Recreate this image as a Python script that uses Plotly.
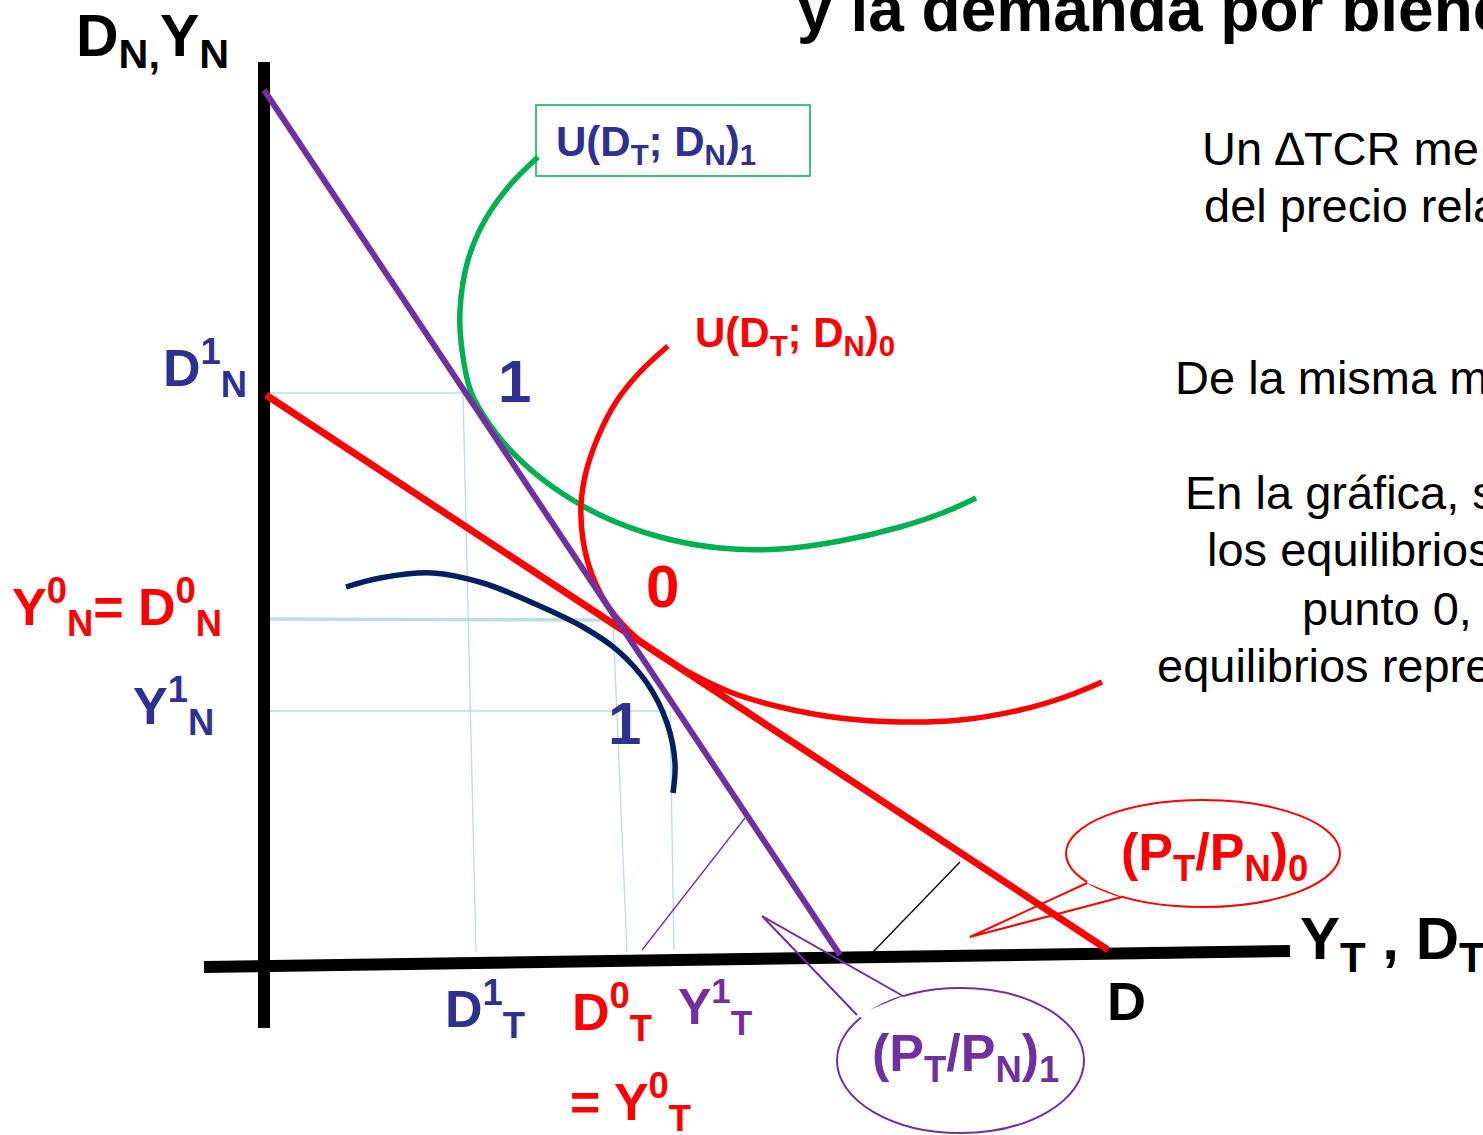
import plotly.graph_objects as go

# ---------------- data (diagram coordinates: origin at the axes' intersection) -------------
# axes
AXIS_V_X = [0, 0]
AXIS_V_Y = [-62, 904]
AXIS_H_X = [-60, 1026]
AXIS_H_Y = [-1, 15]

# budget / relative-price lines
PRICE1_X = [0, 576]          # (PT/PN)1  purple
PRICE1_Y = [876, 11]
PRICE0_X = [2, 844]          # (PT/PN)0  red
PRICE0_Y = [571, 16]

# indifference curve U1 (green)
U1_X = [274, 246, 221, 204, 196, 198, 207, 226, 251, 286, 336, 396, 456, 516, 576, 636, 681, 712]
U1_Y = [809, 781, 746, 706, 656, 616, 574, 541, 511, 481, 451, 429, 418, 417, 425, 439, 454, 468]

# indifference curve U0 (red)
U0_X = [404, 376, 352, 334, 322, 317, 319, 327, 342, 364, 392, 426, 466, 516, 576, 636, 696, 756, 801, 838]
U0_Y = [620, 594, 564, 529, 494, 461, 426, 394, 363, 336, 313, 293, 274, 259, 248, 244, 246, 256, 269, 284]

# production possibilities frontier (navy)
PPF_X = [82, 116, 169, 219, 269, 319, 353, 383, 403, 411, 409]
PPF_Y = [379, 388, 393, 383, 363, 339, 316, 283, 243, 203, 173]

# reference (guide) lines
GUIDE_D1N_X = [0, 201];   GUIDE_D1N_Y = [573, 573]
GUIDE_D1T_X = [199, 212]; GUIDE_D1T_Y = [573, 14]
GUIDE_Y0N_X = [4, 351];   GUIDE_Y0N_Y = [347, 346]
GUIDE_D0T_X = [349, 363]; GUIDE_D0T_Y = [346, 14]
GUIDE_Y1N_X = [4, 403];   GUIDE_Y1N_Y = [255, 255]
GUIDE_Y1T_X = [406, 410]; GUIDE_Y1T_Y = [255, 16]

# angle markers
ANGLE1_X = [481, 378]; ANGLE1_Y = [148, 16]
ANGLE0_X = [696, 609]; ANGLE0_Y = [104, 14]

# explanatory text on the right (as visible on the slide)
RIGHT_TEXT = ["Un ∆TCR me", "del precio rela", "De la misma m", "En la gráfica, s",
              "los equilibrios", "punto 0,", "equilibrios repre"]
RIGHT_X = [936, 938, 909, 919, 941, 1036, 891]
RIGHT_Y = [818, 761, 589, 474, 417, 358, 301]

# ---------------- colours -------------
BLACK = "#000000"
RED = "#FF0000"
PURPLE = "#7030A0"
GREEN = "#00B050"
NAVY_LINE = "#002060"
NAVY_TXT = "#2E3192"
LIGHTBLUE = "#B7DEE8"

FONT = "Liberation Sans"

fig = go.Figure()


def line(x, y, color, width, shape="linear"):
    fig.add_trace(go.Scatter(x=x, y=y, mode="lines",
                             line=dict(color=color, width=width, shape=shape),
                             hoverinfo="skip"))


# guides
line(GUIDE_D1N_X, GUIDE_D1N_Y, LIGHTBLUE, 1.3)
line(GUIDE_D1T_X, GUIDE_D1T_Y, LIGHTBLUE, 1.3)
line(GUIDE_Y0N_X, GUIDE_Y0N_Y, "#BCDFE4", 3.5)
line(GUIDE_D0T_X, GUIDE_D0T_Y, LIGHTBLUE, 1.3)
line(GUIDE_Y1N_X, GUIDE_Y1N_Y, LIGHTBLUE, 1.3)
line(GUIDE_Y1T_X, GUIDE_Y1T_Y, LIGHTBLUE, 1.3)

# axes
line(AXIS_V_X, AXIS_V_Y, BLACK, 12)
line(AXIS_H_X, AXIS_H_Y, BLACK, 12)

# angle markers
line(ANGLE1_X, ANGLE1_Y, PURPLE, 1.3)
line(ANGLE0_X, ANGLE0_Y, BLACK, 1.3)

# curves
line(PPF_X, PPF_Y, NAVY_LINE, 5.5, "spline")
line(U1_X, U1_Y, GREEN, 5.5, "spline")
line(U0_X, U0_Y, RED, 5.5, "spline")
line(PRICE0_X, PRICE0_Y, RED, 7)
line(PRICE1_X, PRICE1_Y, PURPLE, 6)

shapes = []
# green label box
shapes.append(dict(type="rect", xref="x", yref="y", x0=272, x1=546, y0=790, y1=861,
                   line=dict(color=GREEN, width=1.5), fillcolor="rgba(0,0,0,0)"))
# red speech bubble
shapes.append(dict(type="circle", xref="x", yref="y", x0=802, x1=1076, y0=59, y1=166,
                   line=dict(color=RED, width=2), fillcolor="white"))
shapes.append(dict(type="path", xref="x", yref="y",
                   path="M 823,83 L 858,69 L 846,91 L 826,94 Z",
                   line=dict(width=0), fillcolor="white"))
shapes.append(dict(type="path", xref="x", yref="y",
                   path="M 823,83 L 706,29 L 858,69",
                   line=dict(color=RED, width=2), fillcolor="rgba(0,0,0,0)"))
# purple speech bubble
shapes.append(dict(type="circle", xref="x", yref="y", x0=573, x1=820, y0=-167, y1=-22,
                   line=dict(color=PURPLE, width=2), fillcolor="white"))
shapes.append(dict(type="path", xref="x", yref="y",
                   path="M 639,-30 L 593,-49 L 610,-60 L 640,-45 Z",
                   line=dict(width=0), fillcolor="white"))
shapes.append(dict(type="path", xref="x", yref="y",
                   path="M 639,-30 L 498,50 L 593,-49",
                   line=dict(color=PURPLE, width=2), fillcolor="rgba(0,0,0,0)"))

ann = []


def label(text, x, y, color, size, bold=True, xanchor="left", yanchor="middle"):
    ann.append(dict(text=text, x=x, y=y, xref="x", yref="y", showarrow=False,
                    xanchor=xanchor, yanchor=yanchor, align="left",
                    font=dict(family=FONT, size=size, color=color,
                              weight="bold" if bold else "normal")))


# axis titles
label("D<sub>N,</sub>Y<sub>N</sub>", -190, 926, BLACK, 59)
label("Y<sub>T</sub> , D<sub>T</sub>", 1034, 23, BLACK, 60)
# title (cut off at the top of the slide)
label("y la demanda por bienes", 531, 957, BLACK, 64)

for t, x, y in zip(RIGHT_TEXT, RIGHT_X, RIGHT_Y):
    label(t, x, y, BLACK, 47, bold=False)

# curve labels
label("U(D<sub>T</sub>; D<sub>N</sub>)<sub>1</sub>", 290, 822, NAVY_TXT, 42)
label("U(D<sub>T</sub>; D<sub>N</sub>)<sub>0</sub>", 429, 631, RED, 42)

# equilibrium points
label("1", 232, 585, NAVY_TXT, 60)
label("0", 380, 380, RED, 60)
label("1", 342, 243, NAVY_TXT, 60)

# axis value labels
label("D<sup>1</sup><sub>N</sub>", -103, 598, NAVY_TXT, 52)
label("Y<sup>0</sup><sub>N</sub>= D<sup>0</sup><sub>N</sub>", -254, 359, RED, 52)
label("Y<sup>1</sup><sub>N</sub>", -133, 260, NAVY_TXT, 52)
label("D<sup>1</sup><sub>T</sub>", 179, -43, NAVY_TXT, 52)
label("D<sup>0</sup><sub>T</sub>", 306, -46, RED, 52)
label("Y<sup>1</sup><sub>T</sub>", 412, -40, PURPLE, 50)
label("= Y<sup>0</sup><sub>T</sub>", 304, -136, RED, 52)
label("D", 841, -35, BLACK, 54)

# bubble texts
label("(P<sub>T</sub>/P<sub>N</sub>)<sub>0</sub>", 855, 110, RED, 52)
label("(P<sub>T</sub>/P<sub>N</sub>)<sub>1</sub>", 606, -91, PURPLE, 52)

fig.update_layout(
    width=1483, height=1135,
    margin=dict(l=0, r=0, t=0, b=0),
    paper_bgcolor="white", plot_bgcolor="white",
    showlegend=False,
    xaxis=dict(range=[-264, 1219], visible=False, fixedrange=True),
    yaxis=dict(range=[-169, 966], visible=False, fixedrange=True),
    shapes=shapes,
    annotations=ann,
)

fig.write_html("out.html", config={"displayModeBar": False},
               post_script="document.body.style.margin='0';document.body.style.overflow='hidden';")
